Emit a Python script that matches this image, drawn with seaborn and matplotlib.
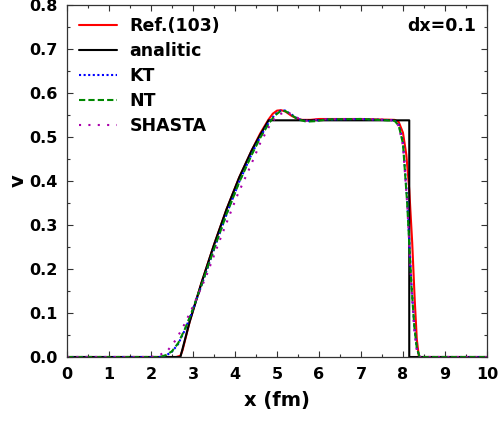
import numpy as np
import pandas as pd
import matplotlib
matplotlib.use("Agg")
import matplotlib.pyplot as plt
from matplotlib.ticker import MultipleLocator, FormatStrFormatter
import seaborn as sns

# ---- data ----
ref_x = [0, 2.6, 2.7, 2.75, 2.92, 3.2, 3.5, 3.8, 4.1, 4.4, 4.6, 4.8, 4.9, 5.0, 5.1, 5.2,
         5.35, 5.5, 5.6, 5.8, 6.0, 7.0, 7.8, 7.9, 8.0, 8.08, 8.15, 8.22, 8.28, 8.33, 8.38, 10]
ref_v = [0, 0, 0.003, 0.015, 0.08, 0.168, 0.255, 0.336, 0.408, 0.47, 0.508, 0.54, 0.553,
         0.56, 0.561, 0.558, 0.548, 0.541, 0.539, 0.539, 0.541, 0.541, 0.539, 0.534, 0.51,
         0.46, 0.38, 0.26, 0.13, 0.04, 0.0, 0]

ana_x = [0, 2.70, 2.92, 3.2, 3.5, 3.8, 4.1, 4.4, 4.6, 4.8, 8.15, 8.15, 10]
ana_v = [0, 0, 0.08, 0.168, 0.255, 0.336, 0.408, 0.47, 0.505, 0.538, 0.538, 0, 0]

kt_x = [0, 2.2, 2.35, 2.5, 2.65, 2.8, 2.95, 3.2, 3.5, 3.8, 4.1, 4.4, 4.6, 4.8, 4.95, 5.1,
        5.2, 5.35, 5.5, 5.7, 5.9, 6.2, 7.0, 7.8, 7.9, 8.0, 8.1, 8.2, 8.27, 8.33, 8.4, 10]
kt_v = [0, 0, 0.003, 0.012, 0.03, 0.06, 0.095, 0.162, 0.245, 0.325, 0.398, 0.462, 0.5,
        0.532, 0.551, 0.561, 0.56, 0.551, 0.541, 0.536, 0.537, 0.54, 0.541, 0.538, 0.528,
        0.49, 0.36, 0.17, 0.07, 0.02, 0.0, 0]

nt_x = [0, 2.2, 2.35, 2.5, 2.65, 2.8, 2.95, 3.2, 3.5, 3.8, 4.1, 4.4, 4.6, 4.8, 4.95, 5.1,
        5.2, 5.35, 5.5, 5.7, 5.9, 6.2, 7.0, 7.8, 7.9, 8.0, 8.1, 8.2, 8.27, 8.33, 8.4, 10]
nt_v = [0, 0, 0.004, 0.013, 0.032, 0.062, 0.097, 0.163, 0.245, 0.325, 0.397, 0.46, 0.498,
        0.53, 0.549, 0.56, 0.559, 0.55, 0.54, 0.535, 0.536, 0.54, 0.541, 0.537, 0.526,
        0.485, 0.35, 0.165, 0.07, 0.02, 0.0, 0]

sh_x = [0, 2.0, 2.2, 2.4, 2.6, 2.8, 3.0, 3.3, 3.64, 4.04, 4.36, 4.6, 4.83, 5.0, 5.2,
        5.35, 5.5, 5.7, 6.0, 7.0, 7.8, 7.9, 8.0, 8.1, 8.2, 8.27, 8.33, 8.4, 10]
sh_v = [0, 0, 0.004, 0.015, 0.04, 0.075, 0.115, 0.18, 0.266, 0.364, 0.432, 0.486, 0.527,
        0.548, 0.558, 0.552, 0.543, 0.537, 0.54, 0.541, 0.538, 0.525, 0.48, 0.35, 0.16,
        0.06, 0.015, 0.0, 0]

labels = ["Ref.(103)", "analitic", "KT", "NT", "SHASTA"]

# ---- plotting ----
sns.set_style("ticks")
plt.rcParams["font.family"] = ["DejaVu Sans"]
plt.rcParams["font.weight"] = "bold"
for key in ["text.color", "axes.labelcolor", "xtick.color", "ytick.color", "axes.edgecolor"]:
    plt.rcParams[key] = "black"

fig = plt.figure(figsize=(5.02, 4.21), dpi=100)
ax = fig.add_axes([0.1335, 0.152, 0.8365, 0.836])

series = [
    (ref_x, ref_v, labels[0], dict(color="#ff0000", lw=1.5, ls="-")),
    (ana_x, ana_v, labels[1], dict(color="black", lw=1.5, ls="-")),
    (kt_x, kt_v, labels[2], dict(color="#0000ff", lw=1.5, ls=(0, (1, 1.2)))),
    (nt_x, nt_v, labels[3], dict(color="#008800", lw=1.5, ls=(0, (3, 1.5)))),
    (sh_x, sh_v, labels[4], dict(color="#aa00aa", lw=1.5, ls=(0, (1, 3.5)))),
]
for xs, vs, lab, st in series:
    df = pd.DataFrame({"x": xs, "v": vs})
    sns.lineplot(data=df, x="x", y="v", ax=ax, sort=False, estimator=None,
                 label=lab, color=st["color"], linewidth=st["lw"], linestyle=st["ls"])

ax.xaxis.set_major_locator(MultipleLocator(1))
ax.xaxis.set_minor_locator(MultipleLocator(0.5))
ax.yaxis.set_major_locator(MultipleLocator(0.1))
ax.yaxis.set_minor_locator(MultipleLocator(0.05))
ax.yaxis.set_major_formatter(FormatStrFormatter("%.1f"))
ax.set_xlim(0, 10)
ax.set_ylim(0, 0.8)
ax.tick_params(which="both", direction="in", top=True, right=True, labelsize=11.5,
               color="#333333", pad=7)
ax.tick_params(which="major", length=4, width=0.8)
ax.tick_params(which="minor", length=2, width=0.8)
for lbl in ax.get_xticklabels() + ax.get_yticklabels():
    lbl.set_fontweight("bold")
for sp in ax.spines.values():
    sp.set_visible(True)
    sp.set_linewidth(0.9)
    sp.set_color("#333333")

ax.set_xlabel("x (fm)", fontsize=14, fontweight="bold", labelpad=7)
ax.set_ylabel("v", fontsize=14, fontweight="bold", labelpad=1)

ax.text(0.975, 0.965, "dx=0.1", transform=ax.transAxes, ha="right", va="top",
        fontsize=12.5, fontweight="bold")

leg = ax.legend(loc="upper left", frameon=False, handlelength=2.2,
                labelspacing=0.4, borderaxespad=0.3, handletextpad=0.7,
                prop={"weight": "bold", "size": 12.5})

fig.savefig("out.png", dpi=100)
